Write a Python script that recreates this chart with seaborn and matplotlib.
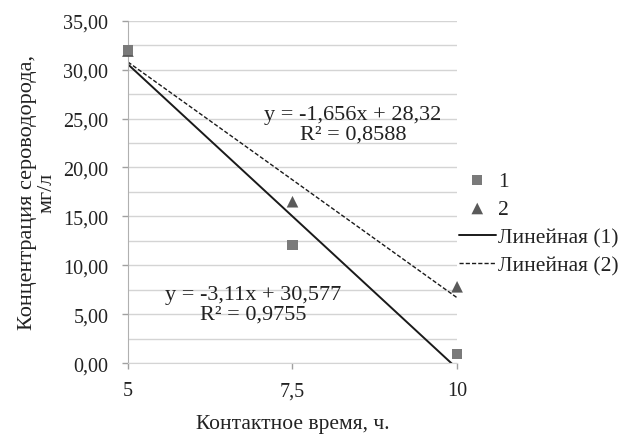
import matplotlib
matplotlib.use('Agg')
import matplotlib.pyplot as plt
import seaborn as sns
import numpy as np

# data
contact_time = [5, 7.5, 10]
series_1 = [32.0, 12.1, 0.9]
series_2 = [31.9, 16.5, 7.8]
x_tick_labels = ['5', '7,5', '10']
y_ticks = [0, 5, 10, 15, 20, 25, 30, 35]

sns.set_style('white')
plt.rcParams['font.family'] = ['Liberation Serif', 'DejaVu Serif']
text_color = '#222222'

fig = plt.figure(figsize=(6.27, 4.35), dpi=100)
ax = fig.add_axes([0.204, 0.163, 0.525, 0.787])

# horizontal grid every 2.5
for v in np.arange(0, 35.01, 2.5):
    ax.axhline(v, color='#d4d4d4', lw=1.0, zorder=0)

# trend lines (least squares fit from the points)
sns.regplot(x=contact_time, y=series_1, ax=ax, scatter=False, ci=None,
            line_kws={'color': '#1a1a1a', 'lw': 1.4, 'zorder': 2}, label='Линейная (1)')
sns.regplot(x=contact_time, y=series_2, ax=ax, scatter=False, ci=None,
            line_kws={'color': '#1a1a1a', 'lw': 1.0, 'ls': (0, (3, 1.5)), 'zorder': 2},
            label='Линейная (2)')

sns.scatterplot(x=contact_time, y=series_2, ax=ax, marker='^', s=70, color='#5a5a5a',
                edgecolor='none', zorder=3, label='2', clip_on=False)
sns.scatterplot(x=contact_time, y=series_1, ax=ax, marker='s', s=55, color='#7a7a7a',
                edgecolor='none', zorder=4, label='1', clip_on=False)

ax.set_xlim(5, 10)
ax.set_ylim(0, 35)
ax.set_xticks(contact_time)
ax.set_xticklabels(x_tick_labels)
ax.set_yticks(y_ticks)
ax.set_yticklabels([f'{v:.2f}'.replace('.', ',') for v in y_ticks])
ax.tick_params(axis='both', labelsize=14.5, colors='#a0a0a0', labelcolor=text_color,
               length=4, width=1, direction='out', bottom=True, left=True)
ax.tick_params(axis='y', pad=10)
ax.tick_params(axis='x', pad=9)

for side in ['top', 'right']:
    ax.spines[side].set_visible(False)
ax.spines['left'].set_color('#b0b0b0')
ax.spines['bottom'].set_color('#d4d4d4')

ax.set_xlabel('Контактное время, ч.', fontsize=15.5, color=text_color, labelpad=10)
ax.set_ylabel('Концентрация сероводорода,\nмг/л', fontsize=16, color=text_color,
              linespacing=1.0, labelpad=5)

ax.text(8.42, 24.4, 'y = -1,656x + 28,32\nR² = 0,8588', ha='center', va='center',
        fontsize=16, color=text_color, linespacing=1.05)
ax.text(6.9, 6.0, 'y = -3,11x + 30,577\nR² = 0,9755', ha='center', va='center',
        fontsize=16, color=text_color, linespacing=1.05)

handles, labels = ax.get_legend_handles_labels()
order = [labels.index(k) for k in ['1', '2', 'Линейная (1)', 'Линейная (2)']]
ax.legend([handles[i] for i in order], [labels[i] for i in order],
          loc='upper left', bbox_to_anchor=(0.732, 0.605), bbox_transform=fig.transFigure,
          frameon=False, fontsize=15.5, labelcolor=text_color, handlelength=1.7,
          handletextpad=0.1, labelspacing=0.38, borderaxespad=0, borderpad=0)

fig.savefig('out.png', dpi=100)
